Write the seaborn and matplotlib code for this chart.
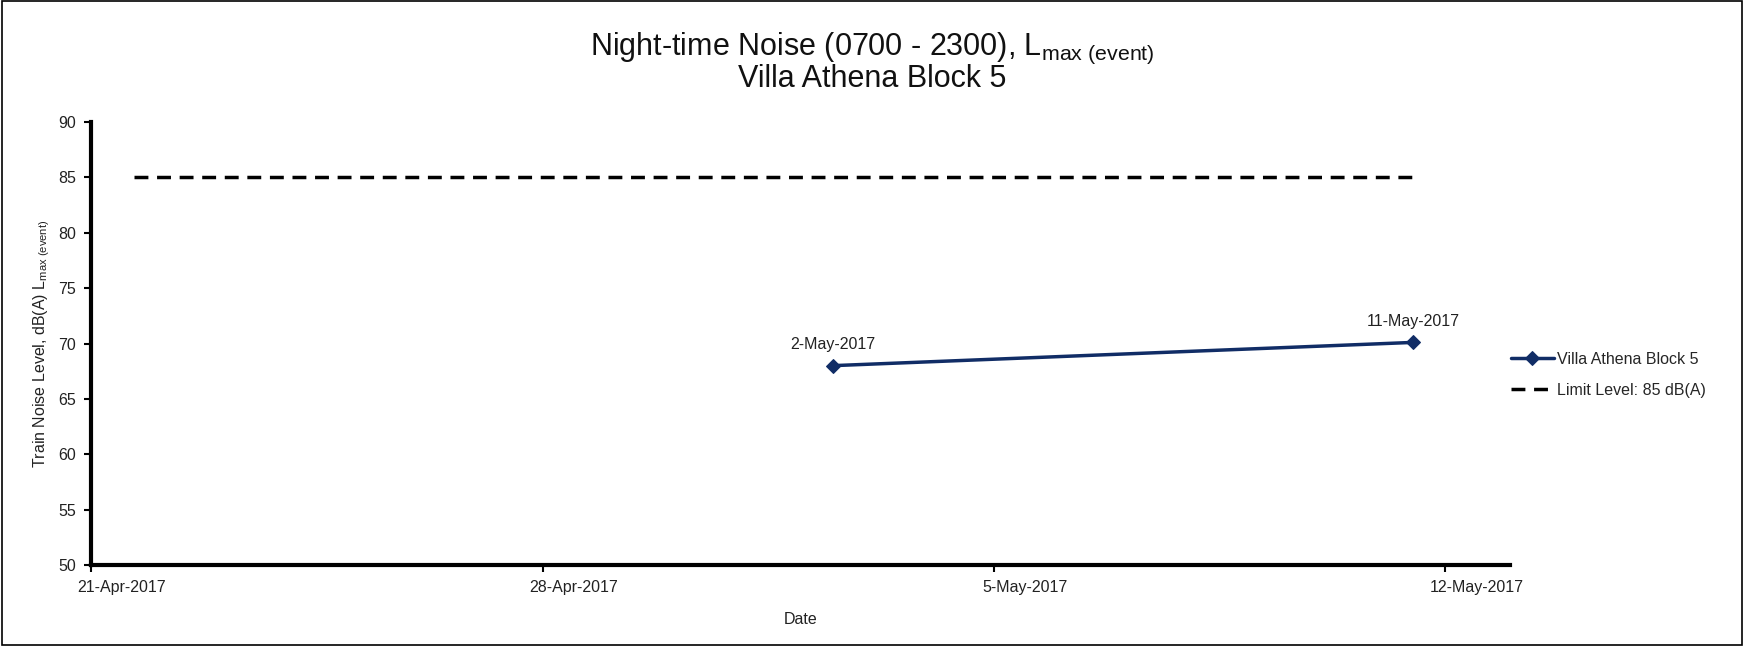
import matplotlib
matplotlib.use('Agg')
import matplotlib.pyplot as plt
import matplotlib.dates as mdates
import matplotlib.transforms as mtransforms
from matplotlib.patches import Rectangle
import seaborn as sns
import pandas as pd

# measured events
event_dates = ["2017-05-02 12:00", "2017-05-11 12:00"]
event_levels = [68.0, 70.1]
event_labels = ["2-May-2017", "11-May-2017"]

# limit line
limit_dates = ["2017-04-21 16:00", "2017-05-11 12:00"]
limit_levels = [85, 85]

tick_dates = ["2017-04-21", "2017-04-28", "2017-05-05", "2017-05-12"]

df_ev = pd.DataFrame({'Date': pd.to_datetime(event_dates), 'Level': event_levels})
df_lim = pd.DataFrame({'Date': pd.to_datetime(limit_dates), 'Level': limit_levels})

sns.set_theme(style='white')
plt.rcParams['font.family'] = ['Liberation Sans Narrow', 'Liberation Sans', 'DejaVu Sans']
plt.rcParams['mathtext.fontset'] = 'custom'
plt.rcParams['mathtext.rm'] = 'Liberation Sans'
plt.rcParams['mathtext.it'] = 'Liberation Sans:italic'
plt.rcParams['mathtext.bf'] = 'Liberation Sans:bold'

fig = plt.figure(figsize=(17.44, 6.46), dpi=100)
ax = fig.add_axes([0.0522, 0.1254, 0.8136, 0.6857])

navy = '#112d66'
sns.lineplot(x='Date', y='Level', data=df_ev, color=navy, linewidth=2.5,
             marker='D', markersize=7, markeredgecolor=navy,
             label='Villa Athena Block 5', ax=ax)
sns.lineplot(x='Date', y='Level', data=df_lim, color='black', linewidth=2.5,
             linestyle=(0, (4, 2.5)), label='Limit Level: 85 dB(A)', ax=ax)

for d, v, t in zip(df_ev['Date'], event_levels, event_labels):
    ax.annotate(t, (d, v), xytext=(0, 10), textcoords='offset points',
                ha='center', va='bottom', fontsize=11.5, color='#222222')

ax.set_xlim(pd.Timestamp("2017-04-21"), pd.Timestamp("2017-05-13"))
ax.set_ylim(50, 90)
ax.set_yticks(range(50, 91, 5))
ax.set_xticks(pd.to_datetime(tick_dates))
ax.xaxis.set_major_formatter(mdates.DateFormatter('%-d-%b-%Y'))

for s in ['top', 'right']:
    ax.spines[s].set_visible(False)
for s in ['left', 'bottom']:
    ax.spines[s].set_linewidth(3)
    ax.spines[s].set_color('black')
ax.tick_params(axis='both', which='major', direction='out', length=5, width=1.5,
               color='black', labelsize=11.5, labelcolor='#222222',
               left=True, bottom=True, pad=6)

# Excel places date labels a little to the right of their ticks
shift = mtransforms.ScaledTranslation(0.31, 0, fig.dpi_scale_trans)
for lab in ax.get_xticklabels():
    lab.set_transform(lab.get_transform() + shift)

ax.set_xlabel("Date", fontsize=11.5, labelpad=12, color='#222222')
ax.set_ylabel("Train Noise Level, dB(A) L$_{\\mathrm{max\\ (event)}}$", fontsize=11.5,
              labelpad=4, color='#222222')

# two-line title
fig.text(0.5, 0.925, "Night-time Noise (0700 - 2300), L$_{\\mathrm{max\\ (event)}}$",
         ha='center', va='center', fontsize=22, color='#111111')
fig.text(0.5, 0.878, "Villa Athena Block 5", ha='center', va='center',
         fontsize=22, color='#111111')

ax.get_legend().remove()
h, l = ax.get_legend_handles_labels()
fig.legend(h, l, loc='center left', bbox_to_anchor=(0.858, 0.42), frameon=False,
           fontsize=11.5, handlelength=2.7, handletextpad=0.2, labelspacing=1.0)

fig.add_artist(Rectangle((0.001, 0.001), 0.998, 0.997, transform=fig.transFigure,
                         fill=False, edgecolor='black', linewidth=1.2))

plt.savefig("out.png", dpi=100)
plt.close()
